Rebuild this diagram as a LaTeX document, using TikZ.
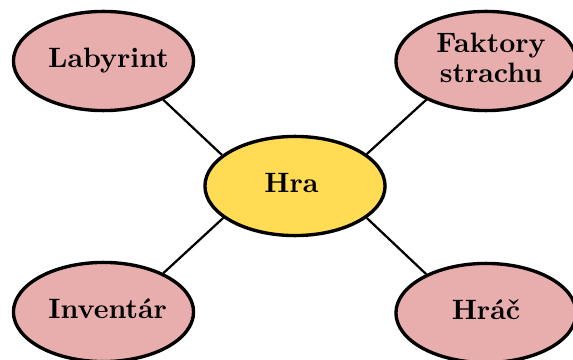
\documentclass[tikz,border=0pt]{standalone}
\usetikzlibrary{shapes.geometric}
\definecolor{petal}{RGB}{232,173,173}
\definecolor{core}{RGB}{255,220,84}
% label set off-centre by #1 inside its bubble
\newcommand{\offlabel}[2]{\makebox[0pt]{\hspace*{#1}\hspace*{#1}\begin{tabular}{@{}c@{}}#2\end{tabular}}}
\begin{document}
\begin{tikzpicture}[x=0.357pt,y=-0.357pt,
  bubble/.style={ellipse, draw=black, line width=1.2pt, inner sep=0pt,
    minimum width=64.3pt, minimum height=35.4pt, font=\bfseries},
  leaf/.style={bubble, fill=petal},
  hub/.style={bubble, fill=core},
  link/.style={draw=black, line width=0.8pt}]
  \useasboundingbox (0,0) rectangle (573,359);
  % central topic
  \node[hub] (hra) at (295,186) {\offlabel{-1.3pt}{Hra}};
  % surrounding topics
  \node[leaf] (lab) at (103.5,61) {\offlabel{1.8pt}{Labyrint}};
  \node[leaf] (fak) at (486,61) {\offlabel{1.8pt}{Faktory\\[-1.3pt]strachu}};
  \node[leaf] (inv) at (103.5,312) {\offlabel{1.5pt}{Inventár}};
  \node[leaf] (hrac) at (486,313) {\offlabel{0pt}{Hráč}};
  % connectors
  \draw[link] (lab.-33) -- (hra.157);
  \draw[link] (fak.213) -- (hra.24);
  \draw[link] (inv.33) -- (hra.204);
  \draw[link] (hrac.147) -- (hra.-24);
\end{tikzpicture}
\end{document}
